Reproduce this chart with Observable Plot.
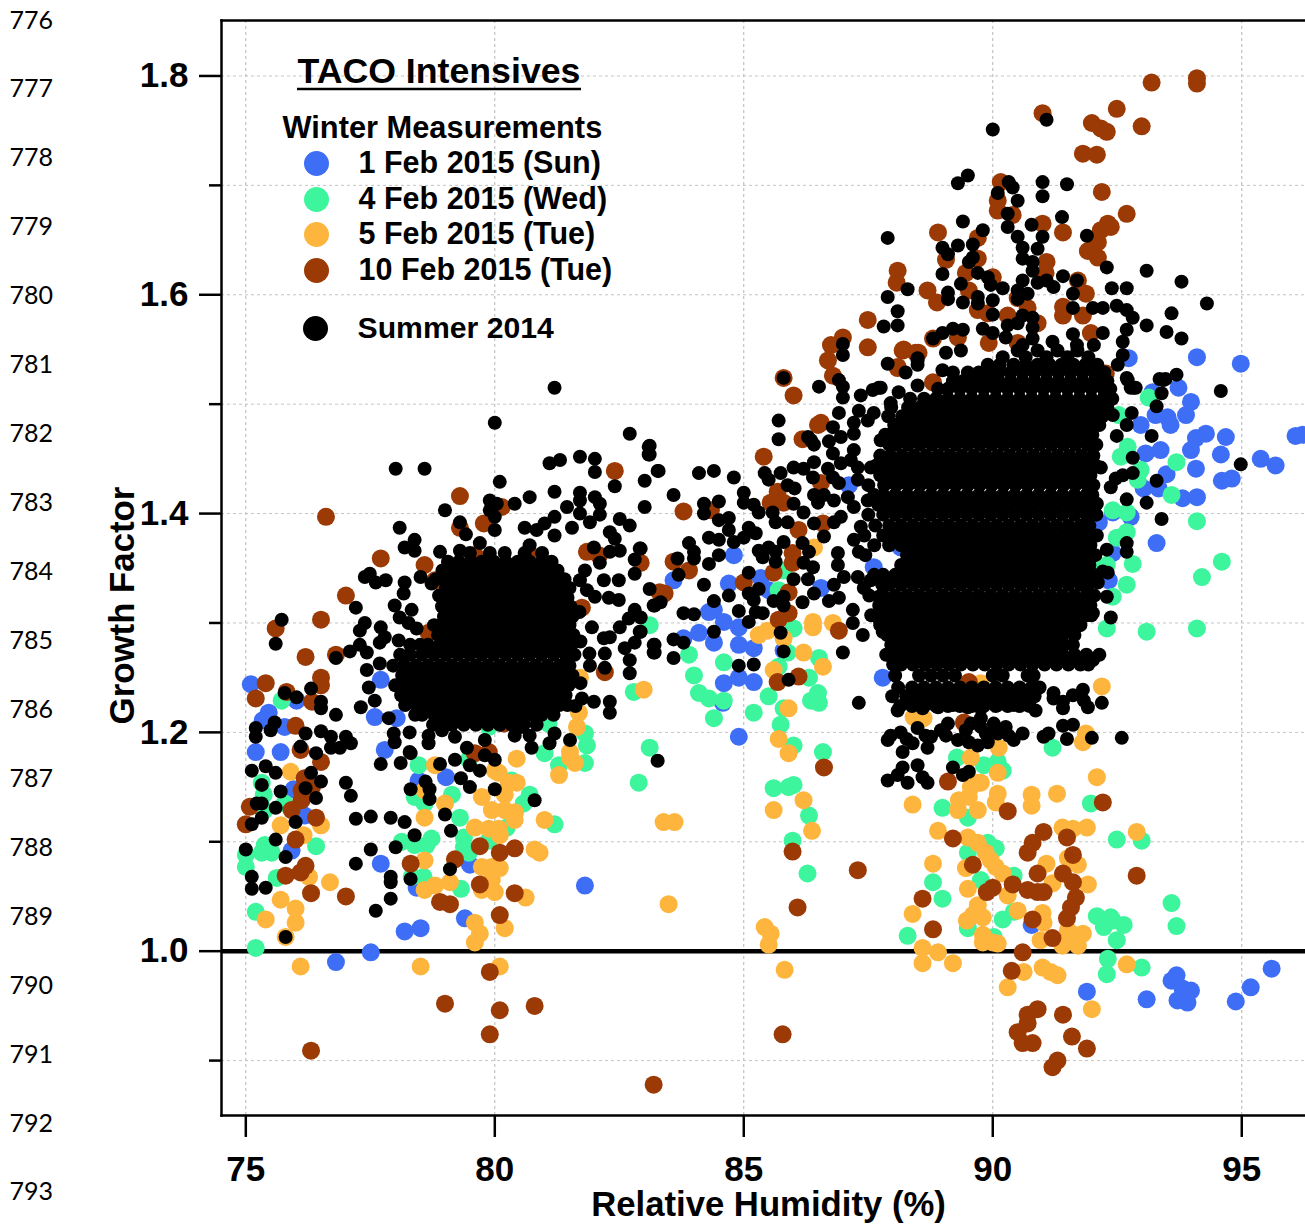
<!DOCTYPE html>
<html><head><meta charset="utf-8">
<script src="https://cdn.jsdelivr.net/npm/d3@7"></script>
<script src="https://cdn.jsdelivr.net/npm/@observablehq/plot@0.6"></script>
<style>html,body{margin:0;padding:0;background:#fff}svg{display:block}</style>
</head><body><div id="chart"></div>
<script>
const feb1 = [[75.10,1.244],[75.46,1.218],[75.34,1.211],[75.78,1.205],[75.20,1.182],[75.70,1.182],[76.02,1.229],[77.71,1.248],[77.59,1.214],[78.03,1.213],[77.79,1.184],[75.96,1.148],[76.18,1.124],[75.92,1.092],[77.71,1.080],[79.50,1.079],[79.02,1.159],[78.47,1.156],[78.43,1.058],[79.40,1.030],[81.81,1.060],[78.19,1.018],[78.51,1.021],[76.81,0.990],[77.51,0.999],
[84.80,1.362],[84.70,1.336],[85.34,1.341],[85.50,1.330],[86.55,1.332],[84.40,1.312],[84.30,1.310],[84.60,1.301],[84.90,1.296],[84.10,1.291],[83.79,1.286],[84.40,1.282],[84.90,1.280],[85.20,1.277],[84.60,1.245],[84.90,1.250],[85.20,1.246],[84.58,1.227],[84.90,1.196],[83.59,1.339],[85.80,1.275],[87.79,1.250],[87.11,1.426],[87.61,1.351],[88.15,1.369],[88.11,1.282],
[92.73,1.542],[94.10,1.543],[94.98,1.537],[93.21,1.511],[93.73,1.515],[93.98,1.502],[93.88,1.490],[93.51,1.488],[93.27,1.490],[93.57,1.481],[92.97,1.481],[94.28,1.473],[94.08,1.469],[94.68,1.470],[93.98,1.458],[94.58,1.454],[93.37,1.458],[93.07,1.455],[94.08,1.441],[93.49,1.436],[95.38,1.450],[95.68,1.444],[96.08,1.471],[96.22,1.472],[94.60,1.430],[94.80,1.432],[93.81,1.414],[94.10,1.415],[93.33,1.423],[93.03,1.423],[92.77,1.397],[92.41,1.401],[93.29,1.373],[92.41,1.364],[92.33,1.339],[92.13,1.392],[91.97,1.452],[91.83,1.437],
[91.89,0.963],[93.09,0.956],[93.69,0.978],[93.59,0.973],[93.98,0.964],[93.71,0.955],[93.91,0.953],[93.81,0.966],[94.88,0.954],[95.18,0.967],[95.60,0.984],[90.78,1.024]];

const feb4 = [[75.72,1.229],[75.20,1.003],[75.20,1.036],[75.00,1.088],[75.00,1.077],[75.38,1.097],[75.52,1.090],[75.32,1.090],[76.41,1.096],[75.62,1.067],[75.32,1.154],[75.36,1.143],[75.38,1.129],[75.78,1.135],[78.47,1.170],[78.39,1.141],[78.59,1.135],[79.14,1.143],[79.30,1.122],[78.13,1.100],[78.39,1.097],[78.63,1.097],[78.73,1.103],[79.38,1.104],[79.38,1.095],[79.48,1.090],[79.88,1.101],[80.24,1.113],[78.33,1.068],[78.57,1.068],[79.32,1.057],[81.20,1.116],[80.70,1.143],[80.58,1.135],[80.40,1.126],[81.85,1.188],[81.81,1.172],[81.29,1.170],[81.00,1.181],[80.34,1.156],[79.48,1.175],[83.11,1.186],[82.89,1.154],[81.08,1.208],[81.81,1.199],[79.88,1.205],[83.11,1.298],[82.79,1.237],
[83.90,1.271],[84.00,1.252],[84.60,1.264],[84.10,1.236],[84.30,1.231],[84.60,1.229],[84.40,1.213],[85.20,1.218],[85.50,1.233],[85.80,1.222],[85.74,1.207],[86.00,1.188],[86.59,1.182],[85.60,1.149],[85.90,1.150],[86.00,1.152],[86.31,1.124],[86.35,1.229],[86.49,1.236],[86.51,1.227],[86.31,1.250],[86.51,1.268],[85.70,1.260],[85.88,1.273],[86.00,1.295],[85.80,1.348],[85.70,1.330],[85.98,1.101],[86.28,1.071],
[93.13,1.506],[92.53,1.490],[92.71,1.461],[92.57,1.452],[92.97,1.440],[92.91,1.431],[93.69,1.447],[93.59,1.417],[92.41,1.403],[92.69,1.401],[92.69,1.383],[92.49,1.378],[94.10,1.393],[92.81,1.354],[92.29,1.353],[92.07,1.348],[92.69,1.335],[92.41,1.324],[92.29,1.295],[93.09,1.292],[94.10,1.295],[94.60,1.356],[94.20,1.342],
[91.20,1.186],[89.28,1.177],[89.82,1.170],[90.10,1.173],[90.20,1.165],[88.99,1.131],[91.97,1.135],[89.50,1.122],[89.90,1.099],[89.50,1.090],[90.06,1.094],[88.80,1.063],[88.99,1.048],[89.76,1.065],[90.42,1.069],[90.42,1.036],[90.20,1.029],[89.50,1.021],[88.29,1.014],[90.02,1.013],[92.49,1.102],[92.99,1.101],[92.09,1.032],[92.37,1.031],[92.23,1.022],[92.63,1.024],[92.49,1.010],[92.41,1.028],[93.59,1.044],[93.69,1.023],[92.31,0.993],[92.29,0.979],[92.99,0.985]];

const feb5 = [[75.90,1.164],[75.70,1.115],[76.51,1.115],[76.16,1.106],[76.69,1.063],[76.27,1.068],[75.70,1.047],[76.00,1.039],[76.00,1.026],[75.40,1.029],[75.80,1.013],[76.10,0.986],[78.51,0.986],[80.10,0.986],
[78.59,1.122],[78.59,1.083],[78.80,1.170],[78.59,1.147],[79.00,1.135],[78.59,1.056],[78.80,1.060],[79.10,1.063],[79.74,1.141],[80.08,1.163],[80.28,1.154],[80.20,1.143],[80.44,1.154],[79.94,1.129],[80.20,1.129],[80.40,1.127],[80.40,1.120],[79.60,1.113],[79.88,1.112],[80.10,1.106],[80.08,1.112],[79.74,1.077],[79.94,1.077],[80.10,1.076],[79.74,1.056],[80.00,1.054],[79.94,1.065],[80.80,1.093],[80.90,1.090],[81.00,1.120],[81.29,1.161],[81.51,1.182],[81.61,1.172],[81.69,1.218],[81.65,1.205],[80.62,1.049],[80.20,1.021],[79.60,1.026],[79.70,1.016],[79.60,1.008],[80.44,1.176],[81.71,1.250],[82.99,1.239],[80.00,1.165],[81.51,1.177],
[86.39,1.301],[86.39,1.296],[86.79,1.300],[85.30,1.289],[85.48,1.293],[85.80,1.286],[86.20,1.273],[86.59,1.260],[85.60,1.257],[85.90,1.222],[85.70,1.194],[85.90,1.181],[86.20,1.138],[85.60,1.129],[86.41,1.369],[83.39,1.118],[83.61,1.118],[86.37,1.110],[83.49,1.043],[85.42,1.022],[85.54,1.016],[85.50,1.006],[85.82,0.983],
[92.19,1.242],[91.87,1.199],[91.81,1.191],[92.09,1.159],[91.29,1.144],[90.78,1.143],[90.78,1.133],[90.10,1.144],[90.06,1.136],[88.39,1.134],[89.70,1.154],[89.76,1.154],[89.56,1.177],[90.10,1.163],[89.32,1.138],[89.52,1.141],[89.30,1.129],[89.70,1.129],[89.56,1.150],[88.90,1.110],[91.40,1.113],[91.61,1.112],[91.89,1.113],[92.89,1.109],[89.50,1.104],[89.70,1.099],[89.86,1.090],[89.96,1.083],[90.06,1.077],[90.20,1.071],[89.46,1.076],[88.80,1.080],[91.08,1.080],[91.51,1.085],[91.71,1.079],[91.91,1.061],[91.20,1.062],[89.50,1.057],[90.30,1.051],[89.70,1.042],[89.60,1.033],[89.80,1.031],[89.48,1.028],[90.50,1.037],[88.39,1.034],[91.00,1.035],[91.02,1.026],[90.96,1.010],[89.80,1.015],[89.80,1.008],[90.00,1.008],[90.10,1.007],[91.63,1.015],[91.81,1.016],[91.40,1.005],[91.71,1.005],[91.51,1.019],[88.59,1.003],[88.90,0.999],[88.59,0.989],[89.20,0.989],[90.62,0.981],[91.00,0.985],[91.16,0.981],[91.30,0.978],[90.30,0.967],[92.69,0.988],[91.99,0.947],[88.41,1.214],[88.61,1.213],[90.12,1.186],[89.76,1.245]];

const feb10 = [[75.60,1.295],[76.51,1.303],[76.20,1.269],[76.81,1.271],[77.01,1.325],[76.61,1.397],[77.71,1.359],[78.59,1.353],[78.80,1.339],[79.30,1.416],[79.78,1.391],[79.30,1.387],[80.14,1.406],[79.60,1.362],[80.68,1.364],[82.41,1.439],[81.85,1.365],[82.09,1.362],[82.93,1.355],[83.31,1.328],[78.67,1.291],[75.40,1.245],[75.20,1.231],[75.82,1.237],[76.51,1.250],[76.51,1.243],[76.33,1.228],[76.00,1.206],[76.10,1.184],[76.51,1.173],[80.18,1.208],[80.40,1.218],[79.60,1.181],[79.88,1.182],[82.21,1.255],[81.75,1.314],[76.18,1.158],[76.12,1.147],[76.33,1.150],[76.12,1.138],[75.92,1.129],[75.08,1.132],[75.00,1.116],[76.41,1.122],[76.00,1.102],[76.20,1.078],[76.10,1.072],[75.80,1.069],[76.31,1.053],[77.01,1.050],[79.70,1.096],[80.10,1.090],[80.40,1.094],[79.20,1.084],[78.31,1.080],[79.70,1.061],[80.40,1.053],[78.90,1.045],[79.10,1.043],[80.10,1.033],[79.90,0.981],[79.00,0.952],[80.10,0.946],[80.80,0.950],[79.90,0.924],[76.31,0.909],[83.19,0.878],
[87.49,1.577],[86.99,1.561],[86.75,1.554],[86.69,1.540],[86.79,1.526],[87.49,1.552],[88.19,1.549],[88.09,1.534],[88.45,1.547],[85.80,1.524],[86.00,1.508],[86.55,1.483],[86.49,1.481],[86.18,1.468],[85.40,1.452],[85.68,1.420],[85.54,1.410],[86.55,1.428],[83.79,1.402],[84.34,1.403],[85.80,1.410],[86.10,1.385],[85.98,1.364],[85.98,1.355],[83.59,1.356],[83.90,1.348],[83.41,1.327],[85.60,1.346],[85.00,1.337],[85.90,1.328],[85.90,1.309],[85.70,1.303],[86.91,1.293],[85.68,1.246],[86.10,1.251],[86.59,1.391],[86.61,1.168],[85.78,0.924],[87.29,1.074],[86.08,1.040],[85.98,1.091],
[93.19,1.794],[94.10,1.798],[94.10,1.793],[92.49,1.770],[92.99,1.754],[91.00,1.766],[91.99,1.757],[92.17,1.752],[92.29,1.749],[91.81,1.729],[92.09,1.728],[92.19,1.694],[92.69,1.674],[92.31,1.665],[92.37,1.662],[92.17,1.659],[92.11,1.648],[91.91,1.640],[92.11,1.634],[91.41,1.657],[91.00,1.665],[90.16,1.703],[90.10,1.686],[90.10,1.677],[90.40,1.673],[88.90,1.657],[89.70,1.652],[89.06,1.632],[89.70,1.633],[88.09,1.622],[88.07,1.611],[88.69,1.604],[88.88,1.593],[91.08,1.630],[91.06,1.620],[91.71,1.613],[91.87,1.601],[91.41,1.589],[91.41,1.581],[91.81,1.581],[91.97,1.565],[90.00,1.616],[89.46,1.620],[89.52,1.604],[89.70,1.586],[89.90,1.583],[90.30,1.581],[90.70,1.588],[90.90,1.574],[90.50,1.597],[88.80,1.560],[88.21,1.550],[88.51,1.547],[88.09,1.533],[88.80,1.520],[92.27,1.528],[89.92,1.556],[90.50,1.556],[89.30,1.561],
[89.10,1.155],[90.30,1.128],[92.21,1.136],[91.02,1.109],[90.80,1.099],[90.70,1.090],[91.49,1.104],[91.61,1.088],[89.20,1.103],[89.60,1.079],[90.90,1.071],[91.41,1.071],[91.61,1.063],[91.67,1.049],[91.57,1.040],[91.49,1.030],[92.89,1.069],[90.40,1.061],[90.00,1.058],[89.88,1.054],[90.70,1.056],[90.90,1.054],[91.02,1.054],[88.59,1.048],[88.80,1.020],[90.80,1.029],[91.20,1.012],[90.60,0.999],[90.38,0.982],[90.90,0.947],[90.70,0.942],[90.70,0.934],[90.50,0.926],[90.60,0.916],[90.80,0.916],[91.41,0.942],[91.59,0.922],[91.89,0.911],[91.30,0.900],[91.20,0.894],[89.42,1.209],[89.52,1.246],[90.40,1.278]];

const summerScatter = [[81.20,1.515],[80.00,1.483],[82.71,1.473],[83.11,1.462],[83.11,1.454],[83.27,1.439],[83.01,1.430],[82.41,1.425],[83.01,1.406],[78.01,1.441],[78.59,1.441],[80.10,1.429],[81.10,1.446],[81.31,1.449],[81.71,1.452],[82.01,1.450],[82.01,1.438],[81.20,1.420],[81.71,1.419],[81.71,1.412],[82.01,1.415],[82.11,1.409],[80.70,1.415],[80.40,1.409],[79.90,1.412],[80.04,1.409],[79.90,1.403],[80.00,1.397],[79.00,1.403],[81.45,1.406],[81.71,1.400],[82.11,1.399],[81.91,1.392],[81.20,1.397],[81.55,1.387],[82.51,1.395],[82.71,1.389],[82.31,1.383],[82.41,1.377],[82.91,1.368],[82.81,1.358],[82.81,1.345],[83.11,1.331],[83.21,1.316],[79.30,1.392],[79.42,1.381],[78.09,1.387],[78.39,1.376],[78.19,1.369],[78.39,1.366],[78.90,1.365],[79.30,1.366],[80.00,1.385],[79.70,1.373],[80.60,1.387],[81.00,1.391],[81.20,1.380],[80.84,1.385],[80.70,1.371],[81.99,1.369],[82.31,1.365],[82.51,1.366],[82.11,1.355],[81.81,1.348],[81.71,1.339],[82.49,1.339],[82.19,1.339],[82.01,1.324],[82.29,1.323],[82.49,1.321],[82.81,1.312],[82.69,1.304],[82.51,1.296],[82.91,1.292],[82.81,1.282],[82.61,1.277],[82.19,1.286],[82.31,1.287],[83.21,1.280],[83.21,1.273],[82.71,1.266],[82.71,1.254],[82.21,1.272],[81.91,1.261],[82.21,1.259],[82.31,1.228],[82.31,1.218],[81.99,1.228],[81.75,1.231],[83.27,1.174],[81.51,1.193],[81.10,1.190],[81.20,1.199],[81.85,1.330],[81.7,1.310],[81.95,1.296],[81.72,1.283],[81.9,1.272],[81.72,1.245],[81.62,1.224],
[77.49,1.345],[77.39,1.342],[77.61,1.337],[77.81,1.339],[78.19,1.337],[78.51,1.342],[78.73,1.336],[78.88,1.325],[78.17,1.327],[77.99,1.316],[78.09,1.305],[78.33,1.312],[78.27,1.300],[78.43,1.295],[77.21,1.314],[77.39,1.300],[77.29,1.293],[77.71,1.296],[77.79,1.287],[78.07,1.284],[77.09,1.274],[77.29,1.280],[77.43,1.273],[77.69,1.282],[77.69,1.263],[77.43,1.257],[77.47,1.241],[77.59,1.229],[77.31,1.223],[76.81,1.268],[75.72,1.303],[75.60,1.281],[76.31,1.240],[75.78,1.236],[76.02,1.232],[76.51,1.228],[76.51,1.222],[76.81,1.216],[75.20,1.204],[75.20,1.196],[75.58,1.209],[75.50,1.202],[76.20,1.199],[76.51,1.201],[76.71,1.196],[77.01,1.196],[77.11,1.190],[76.71,1.186],[76.89,1.186],[76.10,1.187],[76.41,1.181],[75.12,1.165],[75.40,1.169],[75.60,1.163],[75.32,1.152],[75.70,1.146],[76.31,1.163],[76.51,1.155],[76.20,1.149],[76.41,1.140],[75.22,1.135],[75.32,1.135],[75.60,1.131],[75.32,1.122],[75.12,1.116],[76.00,1.118],[77.01,1.154],[77.11,1.142],[77.21,1.121],[77.51,1.123],[77.91,1.122],[78.19,1.118],[78.39,1.106],[75.60,1.102],[75.80,1.086],[75.00,1.093],[77.51,1.093],[78.01,1.095],[77.21,1.080],[75.12,1.068],[75.12,1.057],[75.40,1.058],[77.91,1.068],[77.91,1.063],[78.31,1.066],[77.91,1.048],[77.61,1.037],[75.80,1.013],[79.10,1.075],[79.12,1.110],[79.00,1.125],[78.69,1.139],[78.69,1.148],[78.61,1.155],[78.31,1.148],[80.00,1.148],[80.80,1.138],[79.50,1.150],[79.32,1.158],[79.70,1.165],[79.50,1.170],[80.00,1.175],[79.80,1.179],[79.20,1.175],[78.90,1.171],[78.31,1.181],[78.11,1.172],[77.71,1.171],[80.74,1.186],[80.54,1.205],[80.70,1.197],[80.40,1.197],[79.80,1.193],[79.44,1.186],[78.67,1.190],[78.67,1.197],[78.29,1.200],[77.97,1.199],[77.99,1.191],[77.87,1.213],[78.29,1.182],[78.94,1.202],[79.20,1.196],
[87.81,1.571],[88.09,1.572],[86.99,1.555],[86.99,1.545],[87.89,1.537],[88.25,1.529],[88.49,1.540],[85.80,1.524],[86.51,1.516],[86.91,1.522],[86.99,1.516],[86.99,1.506],[87.35,1.508],[87.59,1.513],[87.71,1.515],[87.95,1.501],[88.11,1.511],[86.91,1.492],[87.31,1.494],[87.61,1.492],[85.70,1.485],[85.70,1.468],[86.79,1.479],[87.21,1.483],[87.49,1.485],[86.35,1.467],[86.29,1.470],[86.41,1.463],[86.71,1.466],[86.95,1.470],[87.21,1.473],[87.75,1.467],[86.79,1.455],[87.21,1.458],[87.15,1.449],[85.42,1.437],[85.50,1.431],[85.74,1.437],[86.00,1.442],[86.20,1.441],[86.41,1.447],[86.69,1.441],[86.95,1.446],[87.29,1.442],[85.88,1.426],[86.02,1.423],[86.39,1.433],[86.79,1.433],[86.91,1.428],[87.29,1.431],[87.55,1.442],[85.00,1.419],[85.00,1.410],[85.20,1.408],[85.30,1.401],[85.58,1.401],[86.00,1.409],[86.20,1.401],[86.41,1.417],[86.61,1.417],[86.49,1.410],[86.81,1.412],[87.09,1.415],[87.21,1.406],[85.64,1.392],[85.88,1.392],[86.41,1.391],[86.81,1.392],[86.95,1.397],[87.49,1.412],[86.61,1.379],[87.21,1.376],[87.35,1.388],[85.80,1.374],[86.18,1.373],[86.31,1.365],[85.30,1.366],[85.50,1.369],[85.64,1.365],[85.38,1.360],[85.64,1.356],[86.20,1.355],[86.39,1.351],[86.89,1.364],[86.89,1.353],[87.31,1.365],[87.01,1.342],[87.29,1.342],[87.55,1.339],[86.00,1.340],[86.29,1.340],[86.81,1.335],[86.41,1.327],[86.18,1.319],[86.71,1.320],[86.91,1.323],[87.41,1.332],[87.71,1.324],[87.19,1.312],[87.19,1.300],[87.39,1.289],[86.99,1.273],[87.71,1.304],[87.79,1.292],[87.31,1.227],
[83.09,1.461],[83.09,1.454],[83.29,1.439],[83.59,1.417],[84.10,1.437],[84.40,1.439],[84.80,1.433],[84.20,1.409],[84.20,1.400],[84.50,1.411],[84.50,1.394],[84.70,1.396],[84.70,1.385],[84.30,1.378],[84.50,1.376],[84.50,1.362],[84.80,1.374],[85.00,1.378],[85.10,1.387],[85.24,1.382],[83.90,1.373],[84.00,1.365],[84.00,1.359],[83.67,1.359],[83.69,1.344],[84.30,1.354],[84.20,1.335],[85.10,1.346],[84.70,1.325],[85.10,1.327],[85.30,1.331],[85.20,1.321],[84.40,1.320],[85.80,1.324],[85.60,1.320],[85.80,1.316],[84.90,1.311],[85.10,1.301],[85.38,1.309],[85.24,1.310],[83.79,1.309],[84.00,1.308],[84.40,1.292],[83.59,1.285],[83.79,1.282],[83.19,1.280],[83.19,1.273],[83.59,1.268],[83.19,1.316],[83.33,1.319],[85.74,1.291],[84.90,1.261],[85.20,1.262],[85.80,1.274],[85.90,1.248],[82.93,1.305],[82.93,1.292],[82.93,1.368],
[90.00,1.751],[91.08,1.760],[89.50,1.709],[89.30,1.702],[90.32,1.703],[90.40,1.698],[91.00,1.703],[91.49,1.701],[91.00,1.690],[90.10,1.693],[90.50,1.686],[90.30,1.674],[90.30,1.662],[89.40,1.667],[91.39,1.671],[90.78,1.664],[87.89,1.652],[89.80,1.659],[91.00,1.653],[90.50,1.653],[91.89,1.654],[88.99,1.643],[89.30,1.645],[89.60,1.646],[89.10,1.637],[90.90,1.642],[90.60,1.643],[90.60,1.633],[89.52,1.630],[89.60,1.634],[90.80,1.630],[90.80,1.622],[88.99,1.619],[92.29,1.625],[93.09,1.622],[93.79,1.612],[89.70,1.620],[89.90,1.616],[90.60,1.613],[90.90,1.611],[91.08,1.613],[91.22,1.607],[91.41,1.617],[91.69,1.613],[92.39,1.606],[92.69,1.606],[94.30,1.592],[88.29,1.605],[89.36,1.610],[89.96,1.609],[90.20,1.606],[90.50,1.604],[90.70,1.601],[91.61,1.601],[89.10,1.602],[89.10,1.596],[87.89,1.598],[89.40,1.593],[89.70,1.598],[89.70,1.592],[90.00,1.595],[90.50,1.596],[88.09,1.585],[92.01,1.588],[92.21,1.588],[92.49,1.590],[92.69,1.586],[92.81,1.579],[91.61,1.588],[93.59,1.583],[93.09,1.572],[93.49,1.566],[93.79,1.560],[92.69,1.568],[92.21,1.565],[91.61,1.564],[90.00,1.582],[90.60,1.581],[90.80,1.579],[90.50,1.574],[90.30,1.572],[89.80,1.569],[90.80,1.570],[90.00,1.565],[90.26,1.561],[89.20,1.569],[89.40,1.568],[88.99,1.565],[88.80,1.560],[90.80,1.560],[90.60,1.554],[91.20,1.557],[91.69,1.554],[92.03,1.554],[92.61,1.557],[92.61,1.545],[88.49,1.542],[88.49,1.536],[89.06,1.547],[89.36,1.549],[88.99,1.531],[89.20,1.529],[94.58,1.512],[93.69,1.527],[93.43,1.522],[93.39,1.510],[92.83,1.515],[92.51,1.536],[92.71,1.522],[87.75,1.515],[88.49,1.517],
[93.47,1.523],[93.35,1.523],[92.87,1.515],[92.77,1.515],[92.69,1.524],[93.29,1.498],[92.79,1.492],[92.69,1.481],[93.19,1.471],[92.49,1.471],[92.41,1.490],[92.81,1.451],[94.98,1.445],[92.81,1.437],[92.61,1.435],[92.47,1.432],[93.29,1.430],[92.37,1.424],[92.69,1.413],[93.09,1.410],[93.39,1.395],[92.09,1.409],[92.69,1.373],[92.69,1.365],[92.29,1.367],[92.09,1.380],[92.21,1.347],[92.31,1.346],[92.11,1.337],[92.29,1.324],[92.37,1.305],[92.01,1.309],[92.01,1.266],[91.61,1.280],[92.17,1.442],
[91.81,1.239],[91.83,1.229],[91.91,1.223],[92.19,1.227],[91.41,1.222],[90.86,1.220],[88.09,1.220],[88.31,1.228],[88.59,1.222],[88.90,1.223],[89.20,1.225],[89.50,1.223],[89.76,1.222],[90.10,1.225],[90.42,1.225],[90.70,1.225],[91.22,1.236],[91.22,1.231],[91.41,1.228],[91.61,1.234],
[87.89,1.193],[87.95,1.197],[88.19,1.182],[88.15,1.200],[88.39,1.190],[88.49,1.204],[88.69,1.186],[88.76,1.196],[88.96,1.202],[89.10,1.208],[89.30,1.193],[89.56,1.208],[89.76,1.213],[89.52,1.191],[89.70,1.188],[89.90,1.191],[89.76,1.205],[90.02,1.208],[90.26,1.205],[90.42,1.193],[90.60,1.199],[90.10,1.199],[90.32,1.197],[91.02,1.196],[91.12,1.199],[91.41,1.206],[91.61,1.207],[91.49,1.194],[91.99,1.195],[92.59,1.195],[88.27,1.194],[88.65,1.197],[89.06,1.197],[89.46,1.202],[89.86,1.199],
[87.89,1.156],[88.09,1.161],[88.19,1.168],[88.29,1.154],[88.49,1.170],[88.59,1.159],[88.69,1.154],[89.20,1.168],[89.40,1.161],[89.52,1.164]];

// Rows of the two solid black masses: growth factor, then the humidities read along that row.
const summerCoreLow = [
[1.364,79.5,79.9,80.2,80.6,80.95],
[1.356,79.06,79.28,79.52,79.74,79.98,80.22,80.46,80.7,80.94,81.14],
[1.348,78.95,79.14,79.38,79.62,79.86,80.1,80.34,80.58,80.82,81.06,81.26],
[1.340,78.82,79.02,79.26,79.5,79.74,79.98,80.22,80.46,80.7,80.94,81.18,81.4],
[1.332,79.02,79.14,79.38,79.62,79.86,80.1,80.34,80.58,80.82,81.06,81.3,81.5],
[1.323,79.06,79.26,79.5,79.74,79.98,80.22,80.46,80.7,80.94,81.18,81.42,81.46],
[1.315,78.94,79.14,79.38,79.62,79.86,80.1,80.34,80.58,80.82,81.06,81.3,81.52],
[1.306,78.98,79.02,79.26,79.5,79.74,79.98,80.22,80.46,80.7,80.94,81.18,81.42,81.56],
[1.298,78.78,78.9,79.14,79.38,79.62,79.86,80.1,80.34,80.58,80.82,81.06,81.3,81.5],
[1.289,78.86,79.02,79.26,79.5,79.74,79.98,80.22,80.46,80.7,80.94,81.18,81.42,81.58],
[1.280,78.3,78.5,78.66,78.9,79.14,79.38,79.62,79.86,80.1,80.34,80.58,80.82,81.06,81.3,81.54],
[1.271,78.1,78.3,78.54,78.78,79.02,79.26,79.5,79.74,79.98,80.22,80.46,80.7,80.94,81.18,81.42,81.6],
[1.261,77.96,78.18,78.42,78.66,78.9,79.14,79.38,79.62,79.86,80.1,80.34,80.58,80.82,81.06,81.3,81.5],
[1.252,78.14,78.3,78.54,78.78,79.02,79.26,79.5,79.74,79.98,80.22,80.46,80.7,80.94,81.18,81.42,81.56],
[1.243,78.0,78.18,78.42,78.66,78.9,79.14,79.38,79.62,79.86,80.1,80.34,80.58,80.82,81.06,81.3,81.48],
[1.234,78.12,78.3,78.54,78.78,79.02,79.26,79.5,79.74,79.98,80.22,80.46,80.7,80.94,81.18,81.42],
[1.225,78.2,78.42,78.66,78.9,79.14,79.38,79.62,79.86,80.1,80.34,80.58,80.82,81.06,81.3,81.46],
[1.216,78.4,78.54,78.78,79.02,79.26,79.5,79.74,79.98,80.22,80.46,80.7,80.94,81.18],
[1.207,78.76,78.9,79.14,79.38,79.62,79.86,80.1,80.34,80.58,80.84]];

const summerCoreHigh = [
[1.549,90.5,90.9,91.3,91.7],
[1.543,90.2,90.66,91.08,91.5,91.92],
[1.536,89.9,90.14,90.42,90.66,90.9,91.14,91.38,91.62,91.86,92.1],
[1.529,89.5,89.72,89.94,90.12,90.36,90.6,90.84,91.08,91.32,91.56,91.8,92.04,92.24],
[1.521,89.2,89.4,89.64,89.88,90.12,90.36,90.6,90.84,91.08,91.32,91.56,91.8,92.04,92.3],
[1.514,88.9,89.1,89.34,89.58,89.82,90.06,90.3,90.54,90.78,91.02,91.26,91.5,91.74,91.98,92.22,92.36],
[1.505,88.34,88.62,88.86,89.1,89.34,89.58,89.82,90.06,90.3,90.54,90.78,91.02,91.26,91.5,91.74,91.98,92.22,92.4],
[1.497,87.96,88.3,88.54,88.78,89.02,89.26,89.5,89.74,89.98,90.22,90.46,90.7,90.94,91.18,91.42,91.66,91.9,92.14,92.3],
[1.489,87.9,88.18,88.42,88.66,88.9,89.14,89.38,89.62,89.86,90.1,90.34,90.58,90.82,91.06,91.3,91.54,91.78,92.02,92.2],
[1.481,88.02,88.06,88.3,88.54,88.78,89.02,89.26,89.5,89.74,89.98,90.22,90.46,90.7,90.94,91.18,91.42,91.66,91.9,92.14],
[1.472,87.84,87.94,88.18,88.42,88.66,88.9,89.14,89.38,89.62,89.86,90.1,90.34,90.58,90.82,91.06,91.3,91.54,91.78,92.0],
[1.463,87.92,88.06,88.3,88.54,88.78,89.02,89.26,89.5,89.74,89.98,90.22,90.46,90.7,90.94,91.18,91.42,91.66,91.9,92.08],
[1.453,87.74,87.94,88.18,88.42,88.66,88.9,89.14,89.38,89.62,89.86,90.1,90.34,90.58,90.82,91.06,91.3,91.54,91.78,92.02],
[1.444,87.66,87.82,88.06,88.3,88.54,88.78,89.02,89.26,89.5,89.74,89.98,90.22,90.46,90.7,90.94,91.18,91.42,91.66,91.9,92.06],
[1.435,87.74,87.94,88.18,88.42,88.66,88.9,89.14,89.38,89.62,89.86,90.1,90.34,90.58,90.82,91.06,91.3,91.54,91.78,91.96],
[1.426,87.5,87.82,88.06,88.3,88.54,88.78,89.02,89.26,89.5,89.74,89.98,90.22,90.46,90.7,90.94,91.18,91.42,91.66,91.9,92.02],
[1.417,87.62,87.8,88.04,88.28,88.52,88.76,89.0,89.24,89.48,89.72,89.96,90.2,90.44,90.68,90.92,91.16,91.4,91.64,91.88,92.0],
[1.408,87.7,87.92,88.16,88.4,88.64,88.88,89.12,89.36,89.6,89.84,90.08,90.32,90.56,90.8,91.04,91.28,91.52,91.76,91.98],
[1.399,87.5,87.8,88.04,88.28,88.52,88.76,89.0,89.24,89.48,89.72,89.96,90.2,90.44,90.68,90.92,91.16,91.4,91.64,91.88,92.08],
[1.389,87.64,87.92,88.16,88.4,88.64,88.88,89.12,89.36,89.6,89.84,90.08,90.32,90.56,90.8,91.04,91.28,91.52,91.76,91.94],
[1.380,87.42,87.8,88.04,88.28,88.52,88.76,89.0,89.24,89.48,89.72,89.96,90.2,90.44,90.68,90.92,91.16,91.4,91.64,91.88,92.02],
[1.371,87.62,87.92,88.16,88.4,88.64,88.88,89.12,89.36,89.6,89.84,90.08,90.32,90.56,90.8,91.04,91.28,91.52,91.76,91.96],
[1.362,87.44,88.28,88.52,88.76,89.0,89.24,89.48,89.72,89.96,90.2,90.44,90.68,90.92,91.16,91.4,91.64,91.88,92.06],
[1.353,88.16,88.4,88.64,88.88,89.12,89.36,89.6,89.84,90.08,90.32,90.56,90.8,91.04,91.28,91.52,91.76,91.94],
[1.344,87.62,87.8,88.04,88.28,88.52,88.76,89.0,89.24,89.48,89.72,89.96,90.2,90.44,90.68,90.92,91.16,91.4,91.64,91.88,92.02],
[1.335,87.78,87.92,88.16,88.4,88.64,88.88,89.12,89.36,89.6,89.84,90.08,90.32,90.56,90.8,91.04,91.28,91.52,91.76,91.92],
[1.325,87.52,87.8,88.04,88.28,88.52,88.76,89.0,89.24,89.48,89.72,89.96,90.2,90.44,90.68,90.92,91.16,91.4,91.64,91.88,92.04],
[1.316,87.72,87.92,88.16,88.4,88.64,88.88,89.12,89.36,89.6,89.84,90.08,90.32,90.56,90.8,91.04,91.28,91.52,91.76,91.96],
[1.307,87.56,87.8,88.04,88.28,88.52,88.76,89.0,89.24,89.48,89.72,89.96,90.2,90.44,90.68,90.92,91.16,91.4,91.64,91.88,91.98],
[1.298,87.74,87.92,88.16,88.4,88.64,88.88,89.12,89.36,89.6,89.84,90.08,90.32,90.56,90.8,91.04,91.28,91.52,91.76],
[1.289,87.88,88.04,88.28,88.52,88.76,89.0,89.24,89.48,89.72,89.96,90.2,90.44,90.68,90.92,91.16,91.4,91.64],
[1.280,87.96,88.16,88.4,88.64,88.88,89.12,89.36,89.6,89.84,90.08,90.32,90.56,90.8,91.04,91.28,91.44],
[1.271,87.86,88.04,88.28,88.52,88.76,89.0,89.24,89.48,89.72,89.96,90.2,90.44,90.68,90.92,91.16,91.4,91.64,91.88,92.14],
[1.262,88.0,88.16,88.4,88.64,88.88,89.12,89.36,89.6,89.84,90.08,90.32,90.56,90.8,91.04,91.28,91.52,91.76,91.92],
[1.252,88.04,88.52,88.76,89.0,89.24,90.0,90.2,90.7,90.82],
[1.241,88.1,88.38,88.62,88.86,89.1,89.34,89.58,89.82,90.06,90.3,90.54,90.78,90.94],
[1.233,87.98,88.26,88.5,88.74,88.98,89.22,89.46,89.7,89.94,90.18,90.42,90.66,90.84],
[1.224,88.14,88.38,88.62,88.86,89.1,89.34,89.58,89.82,90.06,90.3,90.54,90.74]];

const summer = [...summerScatter, ...[...summerCoreLow, ...summerCoreHigh].flatMap(([gf, ...rh]) => rh.map(h => [h, gf]))];

const xTicks = [75, 80, 85, 90, 95];
const yMajor = [1.0, 1.2, 1.4, 1.6, 1.8];
const yMinor = [0.9, 1.1, 1.3, 1.5, 1.7];
const yGrid = [...yMajor, ...yMinor];
const legendTitle = "TACO Intensives";
const legendHead = "Winter Measurements";
const legendRows = ["1 Feb 2015 (Sun)", "4 Feb 2015 (Wed)", "5 Feb 2015 (Tue)", "10 Feb 2015 (Tue)"];
const legendColors = ["#3E6EF5", "#3DF59C", "#FDB53E", "#9B3A05"];
const summerLabel = "Summer 2014";
const lineNumbers = d3.range(776, 794);

const font = "Liberation Sans";
const dotOf = (data, fill, r) => Plot.dot(data, {x: d => d[0], y: d => d[1], r, fill, stroke: "none"});
const label = (t, dx, dy, size, extra = {}) => Plot.text([t], {frameAnchor: "top-left", dx, dy, text: d => d, fontSize: size, fontWeight: "bold", fontFamily: font, textAnchor: "start", lineAnchor: "middle", fill: "black", ...extra});
const rowY = [143, 179, 214, 250];

const plot = Plot.plot({
  width: 1305, height: 1224,
  marginLeft: 221, marginRight: 0, marginTop: 20, marginBottom: 109,
  x: {domain: [74.512, 96.28], axis: null},
  y: {domain: [0.8498, 1.8507], axis: null},
  style: {background: "white", overflow: "visible"},
  marks: [
    Plot.ruleX(xTicks, {stroke: "#b5b5b5", strokeWidth: 1, strokeDasharray: "3,3"}),
    Plot.ruleY(yGrid, {stroke: "#c4c4c4", strokeWidth: 1, strokeDasharray: "3,3"}),
    Plot.ruleY([1], {stroke: "black", strokeWidth: 4.5}),
    dotOf(feb1, legendColors[0], 9),
    dotOf(feb4, legendColors[1], 9),
    dotOf(feb5, legendColors[2], 9),
    dotOf(feb10, legendColors[3], 9),
    dotOf(summer, "black", 7),
    Plot.frame({anchor: "left", stroke: "black", strokeWidth: 2.5}),
    Plot.frame({anchor: "top", stroke: "black", strokeWidth: 2.5}),
    Plot.frame({anchor: "bottom", stroke: "black", strokeWidth: 2.5}),
    Plot.axisX({ticks: xTicks, tickSize: 22, tickPadding: 19, strokeWidth: 2.5, fontSize: 35, fontWeight: "bold", fontFamily: font, fill: "black", label: null, tickFormat: d3.format("d")}),
    Plot.axisY({ticks: yMajor, tickSize: 22, tickPadding: 11, strokeWidth: 2.5, fontSize: 35, fontWeight: "bold", fontFamily: font, fill: "black", label: null, tickFormat: d3.format(".1f")}),
    Plot.axisY({ticks: yMinor, tickSize: 12, strokeWidth: 2.5, label: null, tickFormat: () => ""}),
    label(legendTitle, 76, 51, 35.7),
    label(legendHead, 61, 108, 30.8),
    ...legendRows.map((t, i) => label(t, 137, rowY[i], 30.5)),
    ...legendColors.map((c, i) => Plot.dot([c], {frameAnchor: "top-left", dx: 95, dy: rowY[i], r: 12.5, fill: c})),
    Plot.dot([summerLabel], {frameAnchor: "top-left", dx: 94, dy: 308, r: 12.5, fill: "black"}),
    label(summerLabel, 136, 308, 30.2),
    label("Growth Factor", -99, 585, 34.8, {rotate: -90, textAnchor: "middle"}),
    label("Relative Humidity (%)", 547, 1184, 34.7, {textAnchor: "middle"}),
    ...lineNumbers.map((n, i) => Plot.text([String(n)], {frameAnchor: "top-left", dx: -212, dy: i * 68.94, text: d => d, fontSize: 25, fontFamily: "Lato", textAnchor: "start", lineAnchor: "middle", fill: "black"}))
  ]
});
d3.select(plot).append("line").attr("x1", 297).attr("x2", 581).attr("y1", 89).attr("y2", 89).attr("stroke", "black").attr("stroke-width", 2.5);
document.getElementById("chart").append(plot);
</script>
</body></html>
